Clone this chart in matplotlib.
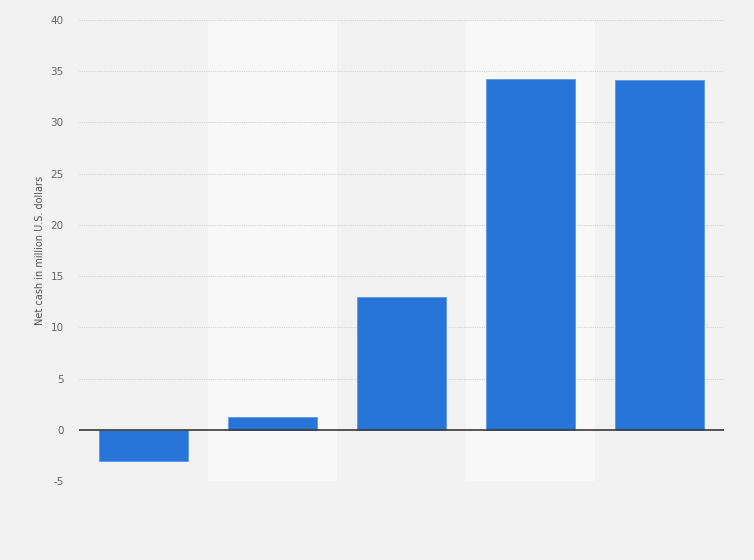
import matplotlib
matplotlib.use("Agg")
import matplotlib.pyplot as plt

categories = ["A", "B", "C", "D", "E"]
values = [-3.08, 1.22, 12.95, 34.28, 34.18]
yticks = [-5, 0, 5, 10, 15, 20, 25, 30, 35, 40]

fig = plt.figure(figsize=(7.54, 5.6), dpi=100, facecolor="#f2f2f2")
ax = fig.add_axes([79/754, 1-481/560, 645/754, 461/560])
ax.set_facecolor("#f2f2f2")

x = list(range(len(categories)))
for i in x:
    if i % 2 == 1:
        ax.axvspan(i-0.5, i+0.5, color="#f8f8f8", zorder=0, lw=0)

for t in yticks:
    if t != 0:
        ax.axhline(t, color="#d2d2d2", lw=0.8, ls=(0, (1, 1)), zorder=1)

ax.bar(x, values, width=0.69, color="#2775d9", edgecolor="#5d97e3", linewidth=0.6, zorder=2)
ax.axhline(0, color="#3a3a3a", lw=1.2, zorder=3)

ax.set_xlim(-0.5, len(categories)-0.5)
ax.set_ylim(-5, 40)
ax.set_yticks(yticks)
ax.set_yticklabels([str(t) for t in yticks], fontsize=7.5, color="#666666")
ax.set_xticks([])
ax.tick_params(axis="y", length=0, pad=11)
for s in ax.spines.values():
    s.set_visible(False)
ax.set_ylabel("Net cash in million U.S. dollars", fontsize=7, color="#555555", labelpad=4)

fig.savefig("out.png", dpi=100, facecolor=fig.get_facecolor())
